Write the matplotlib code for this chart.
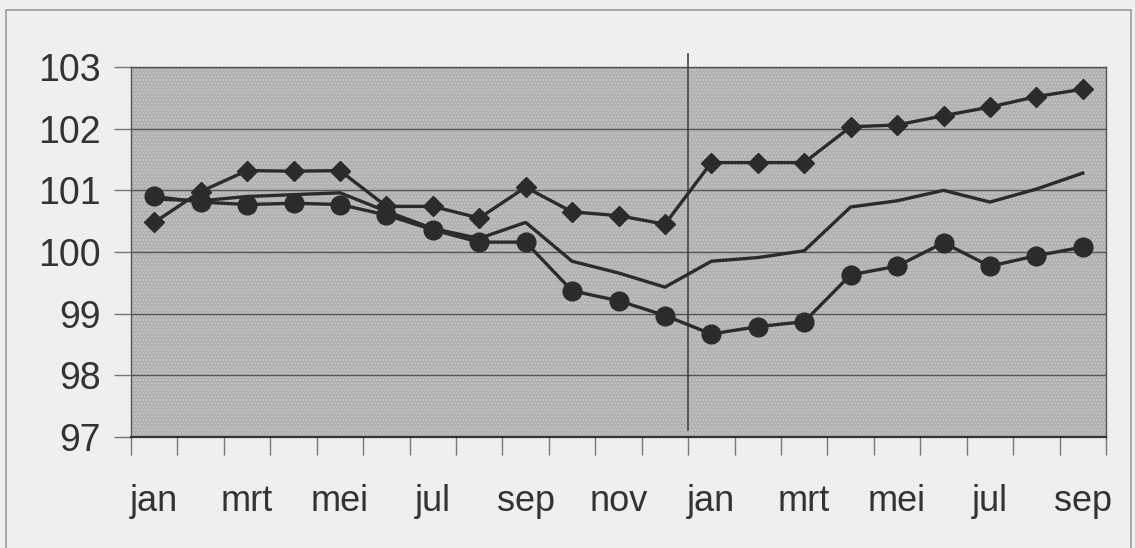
import matplotlib.pyplot as plt
from matplotlib.patches import Rectangle
import numpy as np

months = ['jan', 'feb', 'mrt', 'apr', 'mei', 'jun', 'jul', 'aug', 'sep', 'okt', 'nov', 'dec',
          'jan', 'feb', 'mrt', 'apr', 'mei', 'jun', 'jul', 'aug', 'sep']

# diamonds (top series)
diamonds = [100.48, 100.98, 101.32, 101.31, 101.32, 100.74, 100.74, 100.55, 101.05, 100.65, 100.59, 100.45,
            101.45, 101.45, 101.45, 102.03, 102.06, 102.21, 102.35, 102.52, 102.64]
# plain line (middle series)
middle = [100.86, 100.83, 100.90, 100.93, 100.96, 100.66, 100.38, 100.22, 100.48, 99.85, 99.66, 99.43,
          99.85, 99.91, 100.02, 100.73, 100.83, 101.0, 100.81, 101.02, 101.28]
# circles (bottom series)
circles = [100.9, 100.81, 100.77, 100.79, 100.77, 100.6, 100.36, 100.16, 100.16, 99.37, 99.21, 98.97,
           98.67, 98.79, 98.87, 99.63, 99.77, 100.15, 99.77, 99.94, 100.08]

yticks = [97, 98, 99, 100, 101, 102, 103]
line_col = '#2b2b2b'

plt.rcParams['font.family'] = ['Liberation Sans', 'DejaVu Sans']

fig = plt.figure(figsize=(11.35, 5.48), dpi=100, facecolor='#efefef')
fig.patches.append(Rectangle((6 / 1135, -0.1), 1125 / 1135, 1.1 - 10 / 548, transform=fig.transFigure,
                             fill=False, edgecolor='#9a9a9a', linewidth=1.2))

ax = fig.add_axes([131 / 1135, (548 - 437) / 548, 975 / 1135, 370 / 548])
ax.set_facecolor('#b0b0b0')
ax.add_patch(Rectangle((0, 0), 1, 1, transform=ax.transAxes, fill=False, hatch='.....',
                       edgecolor='#c6c6c6', linewidth=0, zorder=0.5))

x = np.arange(len(months))
ax.plot(x, middle, color=line_col, lw=2.4, zorder=3)
ax.plot(x, circles, color=line_col, lw=2.4, marker='o', markersize=13.5, zorder=4)
ax.plot(x, diamonds, color=line_col, lw=2.4, marker='D', markersize=10.5, zorder=5)

ax.plot([11.5, 11.5], [0.02, 1.035], transform=ax.get_xaxis_transform(), color='#444444',
        lw=1.2, clip_on=False, zorder=2)

ax.set_xlim(-0.5, len(months) - 0.5)
ax.set_ylim(97, 103)
ax.set_yticks(yticks)
ax.set_yticklabels([str(v) for v in yticks], fontsize=27, color='#333333')
ax.grid(axis='y', color='#555555', lw=1.0, zorder=1)
ax.set_axisbelow(True)

ax.set_xticks(np.arange(-0.5, len(months), 1.0), minor=True)
ax.set_xticks(x[::2])
ax.set_xticklabels(months[::2], fontsize=26, color='#333333')
ax.tick_params(axis='x', which='major', length=0, pad=34)
ax.tick_params(axis='x', which='minor', length=13, width=1, color='#777777')
ax.tick_params(axis='y', length=12, width=1, color='#777777', pad=10)

for s in ['top', 'right', 'left']:
    ax.spines[s].set_color('#555555')
    ax.spines[s].set_linewidth(1.0)
ax.spines['bottom'].set_color('#333333')
ax.spines['bottom'].set_linewidth(1.6)

fig.savefig('out.png', dpi=100, facecolor=fig.get_facecolor())
